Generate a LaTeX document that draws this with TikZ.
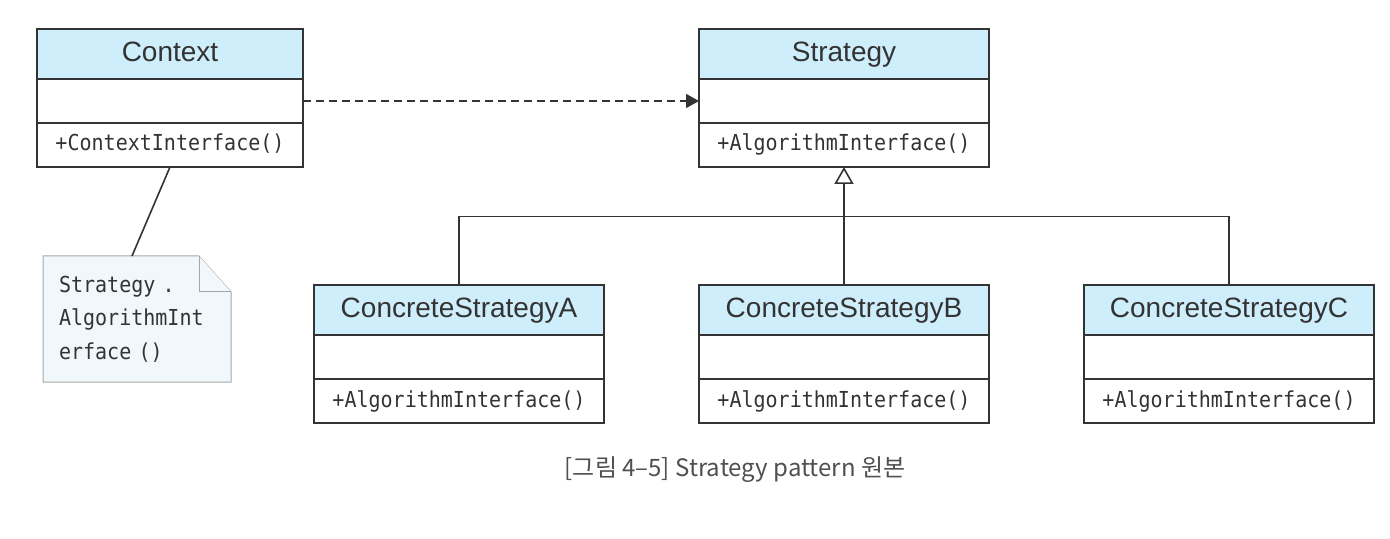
\documentclass[tikz,border=0pt]{standalone}
\usepackage{fontspec}
\usepackage{xcolor}
\usepackage{tikz}
\usetikzlibrary{positioning,arrows.meta,backgrounds}
\setmainfont{Liberation Sans}
\newfontfamily\umlmono[FakeStretch=0.91]{DejaVu Sans Mono}
\newfontfamily\krfont{Noto Sans CJK KR}
\definecolor{headblue}{HTML}{CFEEFB}
\definecolor{notefill}{HTML}{F1F8FB}
\definecolor{umlline}{HTML}{333333}
\definecolor{capgray}{HTML}{505050}

\begin{document}
\begin{tikzpicture}[node distance=0pt,
  every node/.style={inner sep=0pt, outer sep=0pt, align=center},
  classhead/.style={draw=umlline, line width=0.9pt, fill=headblue, minimum width=145pt, minimum height=25pt, text height=10pt, text depth=2.8pt, text=umlline, font=\fontsize{14}{16}\selectfont},
  classattr/.style={draw=umlline, line width=0.9pt, fill=white, minimum width=145pt, minimum height=22pt},
  classops/.style={draw=umlline, line width=0.9pt, fill=white, minimum width=145pt, minimum height=22pt, text height=8pt, text depth=2pt, text=umlline, font=\umlmono\fontsize{11}{13}\selectfont},
  link/.style={draw=umlline, line width=0.8pt},
  depend/.style={link, dash pattern=on 4pt off 2.5pt, -{Triangle[length=6.5pt,width=7pt]}},
  inherit/.style={link, -{Triangle[open,length=8.5pt,width=9.5pt]}},
  notebox/.style={draw=gray!70, line width=0.5pt, fill=notefill},
  caption/.style={text=capgray, font=\krfont\fontsize{12}{14}\selectfont}]
\useasboundingbox (0,0) rectangle (695pt,-269.5pt);

% Context
\node[classhead, minimum width=133pt, anchor=north west] (chead) at (18.5pt,-14.5pt) {Context};
\node[classattr, minimum width=133pt, below=of chead] (cattr) {};
\node[classops, minimum width=133pt, below=of cattr] (cops) {+ContextInterface()};

% Strategy
\node[classhead, right=198pt of chead] (shead) {Strategy};
\node[classattr, below=of shead] (sattr) {};
\node[classops, below=of sattr] (sops) {+AlgorithmInterface()};

% concrete strategies
\node[classhead, below=59pt of sops] (bhead) {ConcreteStrategyB};
\node[classattr, below=of bhead] (battr) {};
\node[classops, below=of battr] (bops) {+AlgorithmInterface()};

\node[classhead, left=47.5pt of bhead] (ahead) {ConcreteStrategyA};
\node[classattr, below=of ahead] (aattr) {};
\node[classops, below=of aattr] (aops) {+AlgorithmInterface()};

\node[classhead, right=47.5pt of bhead] (chead2) {ConcreteStrategyC};
\node[classattr, below=of chead2] (cattr2) {};
\node[classops, below=of cattr2] (cops2) {+AlgorithmInterface()};

% note
\node[anchor=north west, minimum height=63pt, text width=78pt, inner xsep=8pt, align=left,
  text=umlline, font=\umlmono\fontsize{11}{16.75}\selectfont] (note) at (21.5pt,-128pt)
  {Strategy .\\AlgorithmInt\\erface ()};
\begin{pgfonlayer}{background}
\draw[notebox] (note.north west) -- ([xshift=-16pt]note.north east) -- ([yshift=-18pt]note.north east)
  -- (note.south east) -- (note.south west) -- cycle;
\draw[notebox] ([xshift=-16pt]note.north east) |- ([yshift=-18pt]note.north east);
\end{pgfonlayer}

% connectors
\draw[depend] (cattr.east) -- (sattr.west);
\draw[link] (cops.south) -- ([xshift=-2.5pt]note.north);
\coordinate[below=24.85pt of sops] (bus);
\draw[inherit] (bhead.north) -- (sops.south);
\draw[link] (ahead.north) |- (bus) -| (chead2.north);

% caption
\node[caption] (cap) at (367.5pt,-235pt) {[그림 4–5] Strategy pattern 원본};
\end{tikzpicture}
\end{document}
